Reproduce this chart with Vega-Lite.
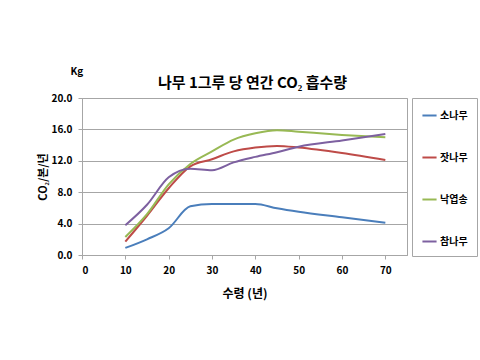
{
  "$schema": "https://vega.github.io/schema/vega-lite/v6.json",
  "width": 325,
  "height": 157,
  "autosize": {"type": "none"},
  "padding": {"left": 82, "top": 98, "right": 73, "bottom": 105},
  "background": "white",
  "config": {
    "font": "Noto Sans CJK KR",
    "view": {"stroke": "#a6a6a6", "strokeWidth": 1}
  },
  "title": {
    "text": "나무 1그루 당 연간 CO₂ 흡수량",
    "fontSize": 15,
    "fontWeight": "bold",
    "color": "#000000",
    "anchor": "middle",
    "offset": -24,
    "dx": 8
  },
  "encoding": {
    "x": {
      "field": "age",
      "type": "quantitative",
      "scale": {"domain": [0, 75], "nice": false},
      "axis": {
        "values": [0, 10, 20, 30, 40, 50, 60, 70],
        "title": "수령 (년)",
        "titleFontSize": 12,
        "titleFontWeight": "bold",
        "titleColor": "#000000",
        "titlePadding": 13,
        "labelFontSize": 10,
        "labelFontWeight": "bold",
        "labelColor": "#000000",
        "labelPadding": 6,
        "labelOverlap": false,
        "grid": false,
        "domainColor": "#a6a6a6",
        "tickColor": "#a6a6a6",
        "tickSize": 4
      }
    },
    "y": {
      "field": "value",
      "type": "quantitative",
      "scale": {"domain": [0, 20], "nice": false},
      "axis": {
        "values": [0, 4, 8, 12, 16, 20],
        "format": ".1f",
        "title": "CO₂/본/년",
        "titleFontSize": 11,
        "titleFontWeight": "bold",
        "titleColor": "#000000",
        "titlePadding": 3,
        "labelFontSize": 10,
        "labelFontWeight": "bold",
        "labelColor": "#000000",
        "labelPadding": 6,
        "labelOverlap": false,
        "labelBound": false,
        "gridColor": "#a6a6a6",
        "domainColor": "#a6a6a6",
        "tickColor": "#a6a6a6",
        "tickSize": 4
      }
    }
  },
  "layer": [
    {
      "data": {
        "values": [
          {"age": 10, "value": 0.9, "tree": "소나무"},
          {"age": 15, "value": 2.0, "tree": "소나무"},
          {"age": 20, "value": 3.4, "tree": "소나무"},
          {"age": 25, "value": 6.2, "tree": "소나무"},
          {"age": 30, "value": 6.5, "tree": "소나무"},
          {"age": 40, "value": 6.5, "tree": "소나무"},
          {"age": 45, "value": 5.95, "tree": "소나무"},
          {"age": 50, "value": 5.5, "tree": "소나무"},
          {"age": 60, "value": 4.8, "tree": "소나무"},
          {"age": 70, "value": 4.1, "tree": "소나무"},
          {"age": 10, "value": 1.7, "tree": "잣나무"},
          {"age": 15, "value": 5.0, "tree": "잣나무"},
          {"age": 20, "value": 8.5, "tree": "잣나무"},
          {"age": 25, "value": 11.3, "tree": "잣나무"},
          {"age": 30, "value": 12.2, "tree": "잣나무"},
          {"age": 35, "value": 13.2, "tree": "잣나무"},
          {"age": 40, "value": 13.7, "tree": "잣나무"},
          {"age": 45, "value": 13.9, "tree": "잣나무"},
          {"age": 50, "value": 13.7, "tree": "잣나무"},
          {"age": 60, "value": 13.0, "tree": "잣나무"},
          {"age": 70, "value": 12.1, "tree": "잣나무"},
          {"age": 10, "value": 2.3, "tree": "낙엽송"},
          {"age": 15, "value": 5.2, "tree": "낙엽송"},
          {"age": 20, "value": 9.0, "tree": "낙엽송"},
          {"age": 25, "value": 11.6, "tree": "낙엽송"},
          {"age": 30, "value": 13.2, "tree": "낙엽송"},
          {"age": 35, "value": 14.7, "tree": "낙엽송"},
          {"age": 40, "value": 15.5, "tree": "낙엽송"},
          {"age": 45, "value": 15.9, "tree": "낙엽송"},
          {"age": 50, "value": 15.7, "tree": "낙엽송"},
          {"age": 60, "value": 15.3, "tree": "낙엽송"},
          {"age": 70, "value": 15.0, "tree": "낙엽송"},
          {"age": 10, "value": 3.8, "tree": "참나무"},
          {"age": 15, "value": 6.4, "tree": "참나무"},
          {"age": 20, "value": 9.9, "tree": "참나무"},
          {"age": 25, "value": 11.0, "tree": "참나무"},
          {"age": 30, "value": 10.8, "tree": "참나무"},
          {"age": 35, "value": 11.8, "tree": "참나무"},
          {"age": 40, "value": 12.5, "tree": "참나무"},
          {"age": 45, "value": 13.1, "tree": "참나무"},
          {"age": 50, "value": 13.8, "tree": "참나무"},
          {"age": 60, "value": 14.6, "tree": "참나무"},
          {"age": 70, "value": 15.4, "tree": "참나무"}
        ]
      },
      "mark": {"type": "line", "interpolate": "monotone", "strokeWidth": 2},
      "encoding": {
        "color": {
          "field": "tree",
          "type": "nominal",
          "scale": {
            "domain": ["소나무", "잣나무", "낙엽송", "참나무"],
            "range": ["#4a7ebb", "#be4b48", "#98b954", "#7d60a0"]
          },
          "legend": {
            "title": null,
            "orient": "right",
            "offset": 5,
            "strokeColor": "#a6a6a6",
            "padding": 9,
            "rowPadding": 28,
            "symbolType": "stroke",
            "symbolStrokeWidth": 2,
            "symbolSize": 200,
            "labelFontSize": 10,
            "labelFontWeight": "bold",
            "labelColor": "#000000",
            "labelOffset": 2
          }
        }
      }
    },
    {
      "data": {"values": [{"age": -1.2, "value": 23.3, "unit": "Kg"}]},
      "mark": {"type": "text", "fontSize": 10, "fontWeight": "bold", "color": "#000000", "align": "center", "clip": false},
      "encoding": {
        "text": {"field": "unit", "type": "nominal"}
      }
    }
  ]
}
